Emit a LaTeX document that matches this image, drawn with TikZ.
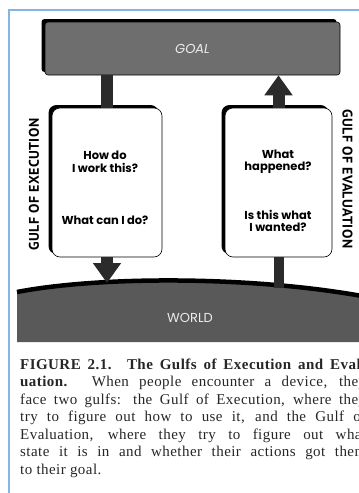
\documentclass[tikz,border=0pt]{standalone}
\usepackage{fontspec}
\setmainfont[LetterSpace=3]{Liberation Serif}
\newfontfamily\comicfont{Poppins}
\newfontfamily\gulffont[LetterSpace=3]{PT Sans}
\usepackage{tikz}
\usetikzlibrary{arrows.meta,shadows,positioning}
\definecolor{frameblue}{HTML}{86B4E6}
\definecolor{goalgray}{HTML}{6E6E6E}
\definecolor{worldgray}{HTML}{595959}
\definecolor{stemgray}{HTML}{2B2B2B}
\newcommand{\qfont}{\fontsize{11.5}{12.5}\comicfont\bfseries\selectfont}
\newcommand{\capfont}{\fontsize{15}{17.5}\selectfont}
\newcommand{\platefont}{\fontsize{13}{13}\comicfont\selectfont}

\begin{document}
\begin{tikzpicture}[x=1pt,y=-1pt,
    plate/.style={draw,semithick,rounded corners=3pt,inner sep=0pt,
      drop shadow={shadow xshift=-3.5pt,shadow yshift=3pt,fill=black,opacity=1}},
    card/.style={plate,fill=white,rounded corners=8pt,minimum height=149pt},
    plateText/.style={text=gray!15,font=\platefont},
    question/.style={font=\qfont,align=center},
    gulf/.style={font=\fontsize{14}{14}\gulffont\bfseries\selectfont},
    stem/.style={draw=stemgray,line width=12pt},
    fatarrow/.style={stem,-{Triangle[width=27pt,length=20pt]}}]
    \useasboundingbox (0,0) rectangle (359,493);
    \clip (0,0) rectangle (359,493);
    \draw [frameblue,line width=2pt] (8.5,10) rectangle (400,540);
    \fill [worldgray] (17,292) .. controls (100,276) and (250,276) .. (362,296) -- (362,342) -- (17,342) -- cycle;
    \draw [line width=4.5pt] (17,292) .. controls (100,276) and (250,276) .. (362,296);
    \node [plateText] (world) at (190,318) {WORLD};
    \coordinate (landL) at (107,283);
    \coordinate (landR) at (278.5,288);
    \node [plate,fill=goalgray,minimum width=295pt,minimum height=53pt,plateText] (goal) at (192.5,48.5) {\itshape GOAL};
    \node [card,minimum width=110pt] (exec) at (107,182.5) {};
    \node [card,minimum width=107pt] (eval) at (278.5,182.5) {};
    \node [question] (how) at (105,162) {How do\\I work this?};
    \node [question] (can) at (105,220) {What can I do?};
    \node [question] (happened) at (278,162) {What\\happened?};
    \node [question] (wanted) at (278,221) {Is this what\\I wanted?};
    \node [gulf,rotate=90] (gexec) at (34,184.5) {GULF OF EXECUTION};
    \node [gulf,rotate=-90] (geval) at (347.5,179) {GULF OF EVALUATION};
    \draw [stem] (goal.south -| exec.north) -- (exec.north);
    \draw [fatarrow] (exec.south) -- (landL);
    \draw [fatarrow] (eval.north) -- (eval.north |- goal.south);
    \draw [stem,line width=10pt] (eval.south) -- (landR);
    \node [anchor=north west,inner sep=0pt,text width=346pt,align=justify,font=\capfont,text=black!85] (caption) at (20,358.5)
      {\hyphenpenalty=10000 \textbf{FIGURE 2.1.}\quad \textbf{The Gulfs of Execution and Eval-}\linebreak
       \textbf{uation.} When people encounter a device, they\linebreak
       face two gulfs: the Gulf of Execution, where they\linebreak
       try to figure out how to use it, and the Gulf of\linebreak
       Evaluation, where they try to figure out what\linebreak
       state it is in and whether their actions got them\linebreak
       to their goal.};
\end{tikzpicture}
\end{document}
